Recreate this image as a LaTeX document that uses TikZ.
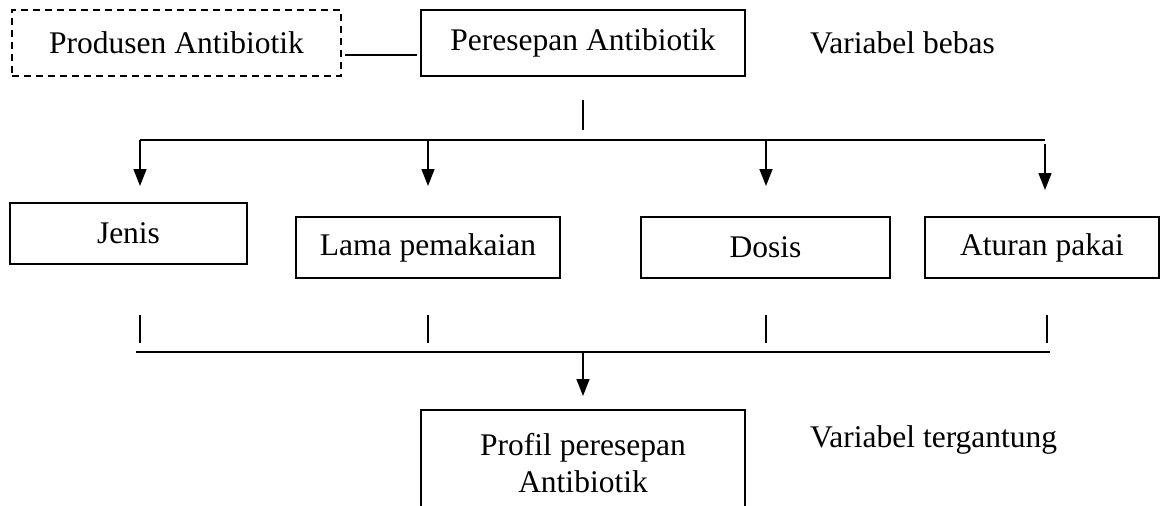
\documentclass[tikz,border=0pt]{standalone}
\usepackage{fontspec}
\setmainfont{Liberation Serif}
\usetikzlibrary{arrows.meta}
\begin{document}
\begin{tikzpicture}[x=1pt,y=-1pt,
  txt/.style={inner sep=0pt, font=\fontsize{31.5}{37}\selectfont},
  box/.style={txt, draw, line width=1.5pt},
  conn/.style={line width=1.5pt},
  arr/.style={line width=1.5pt, -{Triangle[length=17pt,width=13pt]}}]
\useasboundingbox (0,0) rectangle (1171,506);
% top row
\node[box, dash pattern=on 7pt off 5pt, minimum width=329pt, minimum height=66pt] (prod) at (176.5,43) {Produsen Antibiotik};
\node[box, minimum width=324pt, minimum height=66pt] (peres) at (583,43) {Peresepan Antibiotik};
\node[txt, anchor=west] (bebas) at (810,43) {Variabel bebas};
\draw[conn, shorten <=3pt, shorten >=3pt] ([yshift=-12pt]prod.east) -- ([yshift=-12pt]peres.west);
% tick under Peresepan
\coordinate (t0a) at (583,100);
\coordinate (t0b) at (583,130);
\draw[conn] (t0a) -- (t0b);
% upper bus
\coordinate (busL) at (140,140);
\coordinate (busR) at (1045,140);
\draw[conn] (busL) -- (busR);
\coordinate (b2) at (428,140);
\coordinate (b3) at (766,140);
\node[box, minimum width=237pt, minimum height=61pt] (jenis) at (128.5,233.5) {Jenis};
\node[box, minimum width=264pt, minimum height=61pt] (lama) at (428,247.5) {Lama pemakaian};
\node[box, minimum width=249pt, minimum height=61pt] (dosis) at (765.5,247.5) {Dosis};
\node[box, minimum width=234pt, minimum height=61pt] (aturan) at (1042,247.5) {Aturan pakai};
\coordinate (a1) at (140,186);
\coordinate (a2) at (428,186);
\coordinate (a3) at (766,186);
\coordinate (a4) at (1045,190);
\draw[arr] (busL) -- (a1);
\draw[arr] (b2) -- (a2);
\draw[arr] (b3) -- (a3);
\draw[arr] ([yshift=-4pt]busR) -- (a4);
% ticks below boxes
\foreach \n/\x in {1/140,2/428,3/766,4/1047}{
  \coordinate (u\n) at (\x,315);
  \coordinate (v\n) at (\x,343);
  \draw[conn] (u\n) -- (v\n);
}
% lower bus
\coordinate (lbL) at (136,352);
\coordinate (lbR) at (1050,352);
\draw[conn] (lbL) -- (lbR);
\coordinate (lbM) at (583,352);
\coordinate (lbT) at (583,396);
\draw[arr] (lbM) -- (lbT);
% bottom
\node[txt, align=center] (profil) at (583,463) {Profil peresepan\\Antibiotik};
\coordinate (pTL) at (421,410);
\coordinate (pTR) at (745,410);
\coordinate (pBL) at (421,520);
\coordinate (pBR) at (745,520);
\draw[conn] (pBL) -- (pTL) -- (pTR) -- (pBR);
\node[txt, anchor=west] (tergantung) at (810,440) {Variabel tergantung};
\end{tikzpicture}
\end{document}
